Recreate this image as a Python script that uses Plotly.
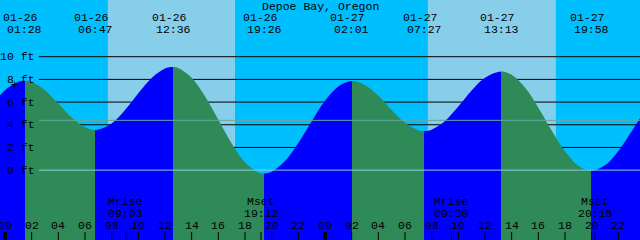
import plotly.graph_objects as go

# ---------------- data ----------------
title = "Depoe Bay, Oregon"
event_dates = ["01-26", "01-26", "01-26", "01-26", "01-27", "01-27", "01-27", "01-27"]
event_times = ["01:28", "06:47", "12:36", "19:26", "02:01", "07:27", "13:13", "19:58"]
event_kind = ["H", "L", "H", "L", "H", "L", "H", "L"]
event_ft = [7.88, 3.54, 9.09, -0.29, 7.85, 3.45, 8.70, -0.05]

# tide height at whole hours (hours from 01-26 00:00)
curve_hours = [-1, 0, 1, 2, 3, 4, 5, 6, 8, 9, 10, 11, 12, 13, 14, 15, 16, 17, 18, 19,
               20, 21, 22, 23, 24, 25, 27, 28, 29, 30, 31, 32, 33, 34, 35, 36,
               38, 39, 40, 41, 42, 43, 45, 46, 47, 48]
curve_ft = [5.69, 7.04, 7.79, 7.77, 7.05, 5.87, 4.64, 3.77, 4.12, 5.30, 6.78, 8.12, 8.95,
            9.01, 8.15, 6.51, 4.44, 2.35, 0.70, -0.20, -0.14, 0.80, 2.40, 4.31, 6.11, 7.38,
            7.50, 6.56, 5.31, 4.18, 3.52, 3.57, 4.33, 5.60, 7.01, 8.14,
            8.41, 7.28, 5.51, 3.50, 1.66, 0.38, 0.43, 1.69, 3.43, 5.26]

sunrise = ["07:43", "07:43"]
sunset = ["17:15", "17:19"]
moonrise = ["09:03", "09:30"]
moonset = ["19:12", "20:15"]

height_labels = [10, 8, 6, 4, 2, 0]
grid_ft = [2, 4, 6, 8, 10]
msl_ft = 4.39
hour_labels = ["00", "02", "04", "06", "08", "10", "12", "14", "16", "18", "20", "22"]

# ---------------- styles ----------------
NIGHT = "#00BFFF"
DAY = "#87CEEB"
RISE = "#0000FF"
FALL = "#2E8B57"
DATUM = "#8EC8E4"
MSL = "#64A89E"
FONT = "Liberation Mono"
FS = 11.5

W, H = 640, 240
XR = [-0.375, 47.625]
YR = [-6.16, 15.0]


def hrs(day, s):
    h, m = s.split(":")
    return 24 * day + int(h) + int(m) / 60.0


def day_of(d):
    return 0 if d == "01-26" else 1


def ypaper(py):
    return 1 - py / H


ev_t = [hrs(day_of(d), t) for d, t in zip(event_dates, event_times)]

# merge curve samples with extremes
pts = sorted(list(zip(curve_hours, curve_ft)) + list(zip(ev_t, event_ft)))
cx = [p[0] for p in pts]
cy = [p[1] for p in pts]

# color stops (rising=blue, falling=green)
x_lo, x_hi = cx[0], cx[-1]
cur = RISE if event_kind[0] == "H" else FALL
stops = [[0.0, cur]]
for t in ev_t:
    p = (t - x_lo) / (x_hi - x_lo)
    stops.append([p, cur])
    cur = FALL if cur == RISE else RISE
    stops.append([p, cur])
stops.append([1.0, cur])

fig = go.Figure()
fig.add_trace(go.Scatter(x=[x_lo, x_hi], y=[-8, -8], mode="lines",
                         line=dict(width=0, color=RISE), hoverinfo="skip", showlegend=False))
fig.add_trace(go.Scatter(x=cx, y=cy, mode="lines", fill="tonexty",
                         line=dict(width=0, shape="spline", smoothing=1, color=RISE),
                         fillgradient=dict(type="horizontal", colorscale=stops,
                                           start=x_lo, stop=x_hi),
                         hoverinfo="skip", showlegend=False))

shapes = []
# daylight
for d in range(2):
    shapes.append(dict(type="rect", xref="x", yref="paper", layer="below",
                       x0=hrs(d, sunrise[d]), x1=hrs(d, sunset[d]), y0=0, y1=1,
                       fillcolor=DAY, line=dict(width=0)))
# black grid lines (behind water)
for g in grid_ft:
    shapes.append(dict(type="line", xref="paper", yref="y", layer="below",
                       x0=39 / W, x1=1, y0=g, y1=g, line=dict(color="black", width=1)))
# datum and MSL lines (on top)
shapes.append(dict(type="line", xref="paper", yref="y", layer="above",
                   x0=39 / W, x1=1, y0=0, y1=0, line=dict(color=DATUM, width=1)))
shapes.append(dict(type="line", xref="paper", yref="y", layer="above",
                   x0=39 / W, x1=1, y0=msl_ft, y1=msl_ft, line=dict(color=MSL, width=1)))
# hour ticks
for d in range(3):
    for i, lab in enumerate(hour_labels):
        t = 24 * d + 2 * i
        if t > 48:
            continue
        if i == 0:
            shapes.append(dict(type="rect", xref="x", yref="paper", layer="above",
                               x0=t - 0.15, x1=t + 0.15, y0=0, y1=8 / H,
                               fillcolor="black", line=dict(width=0)))
        else:
            shapes.append(dict(type="line", xref="x", yref="paper", layer="above",
                               x0=t, x1=t, y0=0, y1=8 / H,
                               line=dict(color="black", width=1)))
# moon ticks
for d in range(2):
    for s in (moonrise[d], moonset[d]):
        t = hrs(d, s)
        shapes.append(dict(type="line", xref="x", yref="paper", layer="above",
                           x0=t, x1=t, y0=0, y1=8 / H, line=dict(color="black", width=1)))

ann = []


def txt(x, y, s, xref="x", xanchor="center", xshift=0):
    ann.append(dict(x=x, y=ypaper(y), xref=xref, yref="paper", text=s, showarrow=False,
                    xanchor=xanchor, yanchor="middle", xshift=xshift,
                    font=dict(family=FONT, size=FS, color="black")))


txt(0.5, 6, title, xref="paper")
for d, tm, t in zip(event_dates, event_times, ev_t):
    txt(t, 17.3, d, xshift=-4)
    txt(t, 29.5, tm)
for d in range(2):
    tr = hrs(d, moonrise[d])
    ts = hrs(d, moonset[d])
    txt(tr, 201.7, "Mrise")
    txt(tr, 213.5, moonrise[d])
    txt(ts, 201.7, "Mset")
    txt(ts, 213.5, moonset[d])
for d in range(3):
    for i, lab in enumerate(hour_labels):
        t = 24 * d + 2 * i
        if t > 48:
            continue
        txt(t, 225, lab)
for h in height_labels:
    py = 170.1 - 11.34 * h
    txt(37 / W, py, "%d ft" % h, xref="paper", xanchor="right")
txt(14 / W, 84, "+", xref="paper")

fig.update_layout(
    width=W, height=H, autosize=False,
    margin=dict(l=0, r=0, t=0, b=0, pad=0),
    paper_bgcolor=NIGHT, plot_bgcolor=NIGHT,
    xaxis=dict(range=XR, visible=False, fixedrange=True),
    yaxis=dict(range=YR, visible=False, fixedrange=True),
    shapes=shapes, annotations=ann, showlegend=False,
)
fig.write_html("out.html")
